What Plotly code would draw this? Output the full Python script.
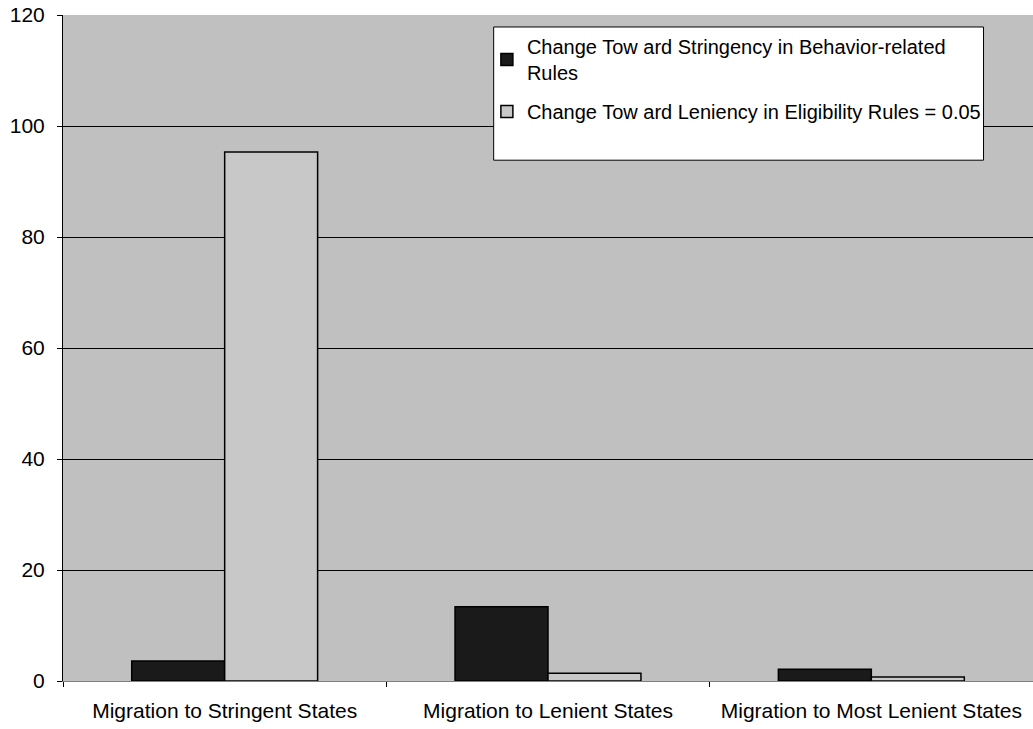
import plotly.graph_objects as go

categories = ["Migration to Stringent States", "Migration to Lenient States", "Migration to Most Lenient States"]
series_names = ["Change Tow ard Stringency in Behavior-related<br>Rules",
                "Change Tow ard Leniency in Eligibility Rules = 0.05"]
stringency_vals = [3.6, 13.4, 2.1]
leniency_vals = [95.3, 1.4, 0.7]
y_ticks = [0, 20, 40, 60, 80, 100, 120]

FONT = "Liberation Sans, Arial, sans-serif"

fig = go.Figure()
fig.add_trace(go.Bar(x=categories, y=stringency_vals, name=series_names[0], legendgroup="a",
                     marker=dict(color="#1a1a1a", line=dict(color="#000000", width=1.5))))
fig.add_trace(go.Bar(x=categories, y=leniency_vals, name=series_names[1], legendgroup="b",
                     marker=dict(color="#c8c8c8", line=dict(color="#000000", width=1.5))))
# helper trace so the tick-mark axis (y2) is drawn
fig.add_trace(go.Scatter(x=categories, y=[None, None, None], yaxis="y2", mode="markers",
                         showlegend=False, hoverinfo="skip"))

fig.update_layout(
    width=1033, height=729,
    margin=dict(l=63, r=0, t=15, b=48),
    paper_bgcolor="white", plot_bgcolor="#c0c0c0",
    barmode="group", bargap=0.425, bargroupgap=0,
    font=dict(family=FONT, size=20, color="black"),
    showlegend=True,
    legend=dict(x=0.437, y=0.982, xanchor="left", yanchor="top",
                bgcolor="rgba(0,0,0,0)", borderwidth=0,
                font=dict(family=FONT, size=20, color="black"),
                traceorder="grouped", itemwidth=30, tracegroupgap=10),
    shapes=[dict(type="rect", xref="paper", yref="paper",
                 x0=0.444, x1=0.949, y0=0.782, y1=0.982,
                 fillcolor="white", line=dict(color="black", width=1), layer="above")],
    yaxis=dict(range=[0, 120], tickvals=y_ticks, ticktext=[str(v) for v in y_ticks],
               showgrid=True, gridcolor="#000000", gridwidth=1,
               showline=True, linecolor="black", linewidth=1,
               ticks="outside", ticklen=13, tickcolor="rgba(0,0,0,0)", zeroline=False,
               tickfont=dict(size=21)),
    yaxis2=dict(overlaying="y", side="left", range=[0, 120], tickvals=y_ticks,
                showticklabels=False, showgrid=False, zeroline=False,
                ticks="outside", ticklen=5, tickcolor="black", showline=False),
)
fig.update_xaxes(showline=True, linecolor="#808080", linewidth=1,
                 ticks="outside", tickson="boundaries", ticklen=5, tickcolor="black",
                 tickfont=dict(size=21), mirror=False, ticklabelstandoff=11)

fig.write_html("out.html")
